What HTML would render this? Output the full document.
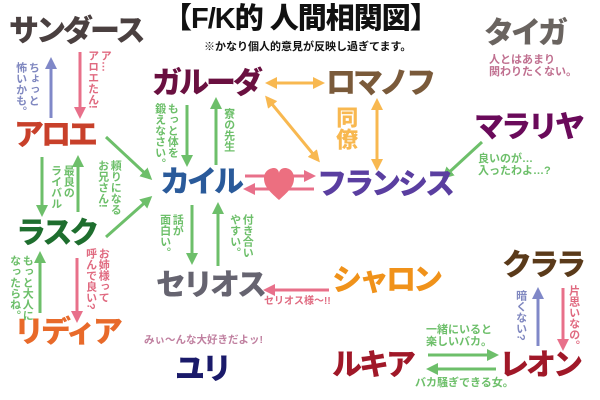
<!DOCTYPE html>
<html><head><meta charset="utf-8"><style>
body{margin:0;width:600px;height:400px;background:#fff;position:relative;overflow:hidden;font-family:"Liberation Sans","Noto Sans CJK JP",sans-serif}
.n{position:absolute;font-weight:900;font-size:30px;line-height:1;letter-spacing:-3px;white-space:nowrap}
.s{position:absolute;font-size:11px;line-height:1.05;white-space:nowrap;font-weight:bold}
.v{writing-mode:vertical-rl;line-height:1.15;font-size:11px}
svg{position:absolute;left:0;top:0}
</style></head><body>
<svg width="600" height="400" viewBox="0 0 600 400">
<defs>
<marker id="g" markerWidth="4" markerHeight="4" refX="3" refY="2" orient="auto" markerUnits="strokeWidth"><path d="M0,0 L4,2 L0,4Z" fill="#6dbf6a"/></marker>
<marker id="r" markerWidth="4" markerHeight="4" refX="3" refY="2" orient="auto" markerUnits="strokeWidth"><path d="M0,0 L4,2 L0,4Z" fill="#e8708a"/></marker>
<marker id="b" markerWidth="4" markerHeight="4" refX="3" refY="2" orient="auto" markerUnits="strokeWidth"><path d="M0,0 L4,2 L0,4Z" fill="#8088c8"/></marker>
<marker id="o" markerWidth="4" markerHeight="4" refX="3" refY="2" orient="auto-start-reverse" markerUnits="strokeWidth"><path d="M0,0 L4,2 L0,4Z" fill="#f8b850"/></marker>
</defs>
<g stroke-width="3" fill="none">
<line x1="51" y1="118" x2="51" y2="60" stroke="#8088c8" marker-end="url(#b)"/>
<line x1="80" y1="52" x2="80" y2="116" stroke="#e8708a" marker-end="url(#r)"/>
<line x1="106" y1="137" x2="150" y2="178" stroke="#6dbf6a" marker-end="url(#g)"/>
<line x1="106" y1="237" x2="150" y2="198" stroke="#6dbf6a" marker-end="url(#g)"/>
<line x1="78" y1="212" x2="78" y2="158" stroke="#6dbf6a" marker-end="url(#g)"/>
<line x1="42" y1="157" x2="42" y2="214" stroke="#6dbf6a" marker-end="url(#g)"/>
<line x1="40" y1="313" x2="40" y2="254" stroke="#6dbf6a" marker-end="url(#g)"/>
<line x1="77" y1="258" x2="77" y2="320" stroke="#e8708a" marker-end="url(#r)"/>
<line x1="187" y1="105" x2="187" y2="164" stroke="#6dbf6a" marker-end="url(#g)"/>
<line x1="216" y1="165" x2="216" y2="100" stroke="#6dbf6a" marker-end="url(#g)"/>
<line x1="192" y1="205" x2="192" y2="262" stroke="#6dbf6a" marker-end="url(#g)"/>
<line x1="218" y1="266" x2="218" y2="205" stroke="#6dbf6a" marker-end="url(#g)"/>
<line x1="268" y1="83" x2="322" y2="83" stroke="#f8b850" marker-start="url(#o)" marker-end="url(#o)"/>
<line x1="267" y1="98" x2="318" y2="160" stroke="#f8b850" marker-start="url(#o)" marker-end="url(#o)"/>
<line x1="377" y1="101" x2="377" y2="168" stroke="#f8b850" marker-start="url(#o)" marker-end="url(#o)"/>
<line x1="245" y1="176" x2="313" y2="176" stroke="#e8708a" marker-end="url(#r)"/>
<line x1="314" y1="189" x2="246" y2="189" stroke="#e8708a" marker-end="url(#r)"/>
<line x1="482" y1="142" x2="444" y2="177" stroke="#6dbf6a" marker-end="url(#g)"/>
<line x1="329" y1="290" x2="266" y2="290" stroke="#e8708a" marker-end="url(#r)"/>
<line x1="538" y1="346" x2="538" y2="290" stroke="#8088c8" marker-end="url(#b)"/>
<line x1="563" y1="288" x2="563" y2="348" stroke="#e8708a" marker-end="url(#r)"/>
<line x1="428" y1="355" x2="496" y2="355" stroke="#6dbf6a" marker-end="url(#g)"/>
<line x1="496" y1="369" x2="429" y2="369" stroke="#6dbf6a" marker-end="url(#g)"/>
</g>
<path d="M279,200 C268,190 264,186 264,178 C264,171 270,168 274,168 C277,168 279,171 279,173 C279,171 281,168 285,168 C289,168 294,171 294,178 C294,186 290,190 279,200Z" fill="#ec6f80"/>
</svg>

<div class="n" style="left:163px;top:5px;font-size:29px;color:#111;letter-spacing:-1px">【F/K的 人間相関図】</div>
<div class="s" style="left:204px;top:42px;color:#111;font-size:11px">※かなり個人的意見が反映し過ぎてます。</div>

<div class="n" style="left:9px;top:17px;color:#4a4040">サンダース</div>
<div class="n" style="left:14px;top:121px;color:#c8402a">アロエ</div>
<div class="n" style="left:16px;top:219px;color:#1e6e2e">ラスク</div>
<div class="n" style="left:14px;top:318px;color:#e86a2a">リディア</div>
<div class="n" style="left:152px;top:69px;color:#6a1040">ガルーダ</div>
<div class="n" style="left:326px;top:69px;color:#7a5a3a">ロマノフ</div>
<div class="n" style="left:160px;top:168px;color:#2a5a9a">カイル</div>
<div class="n" style="left:317px;top:170px;color:#5a3ea0">フランシス</div>
<div class="n" style="left:156px;top:271px;color:#666470">セリオス</div>
<div class="n" style="left:332px;top:266px;color:#f0921a">シャロン</div>
<div class="n" style="left:484px;top:19px;color:#6a6460">タイガ</div>
<div class="n" style="left:474px;top:113px;color:#6a0a5a">マラリヤ</div>
<div class="n" style="left:502px;top:251px;color:#5a3a1a">クララ</div>
<div class="n" style="left:332px;top:351px;color:#a01828">ルキア</div>
<div class="n" style="left:499px;top:351px;color:#a01828">レオン</div>
<div class="n" style="left:175px;top:355px;color:#1a1a6a">ユリ</div>

<div class="s v" style="left:14px;top:62px;color:#8088c0">ちょっと<br>怖いかも。</div>
<div class="s v" style="left:86px;top:50px;color:#e06a80">ア…<br>アロエたん!</div>
<div class="s v" style="left:96px;top:160px;color:#6dbf6a">頼りになる<br>お兄さん!</div>
<div class="s v" style="left:49px;top:165px;color:#6dbf6a">最良の<br>ライバル</div>
<div class="s v" style="left:8px;top:255px;color:#6dbf6a">もっと大人に<br>なったらね。</div>
<div class="s v" style="left:84px;top:248px;color:#e06a80">お姉様って<br>呼んで良い?</div>
<div class="s v" style="left:153px;top:103px;color:#6dbf6a">もっと体を<br>鍛えなさい。</div>
<div class="s v" style="left:222px;top:108px;color:#6dbf6a">寮の先生</div>
<div class="s v" style="left:158px;top:214px;color:#6dbf6a">話が<br>面白い。</div>
<div class="s v" style="left:228px;top:214px;color:#6dbf6a">付き合い<br>やすい。</div>
<div class="s v" style="left:333px;top:106px;color:#f8b850;font-size:22px;font-weight:900">同僚</div>
<div class="s" style="left:489px;top:55px;color:#c07090">人とはあまり<br>関わりたくない。</div>
<div class="s" style="left:478px;top:154px;color:#6dbf6a">良いのが…<br>入ったわよ…?</div>
<div class="s" style="left:264px;top:297px;color:#e06a80;font-size:10px">セリオス様～!!</div>
<div class="s v" style="left:514px;top:290px;color:#8088c0">暗くない?</div>
<div class="s v" style="left:567px;top:285px;color:#e06a80">片思いなの。</div>
<div class="s" style="left:426px;top:325px;color:#6dbf6a">一緒にいると<br>楽しいバカ。</div>
<div class="s" style="left:415px;top:378px;color:#6dbf6a">バカ騒ぎできる女。</div>
<div class="s" style="left:144px;top:335px;color:#c080a0;font-size:10.5px">みぃ～んな大好きだよッ!</div>
</body></html>
